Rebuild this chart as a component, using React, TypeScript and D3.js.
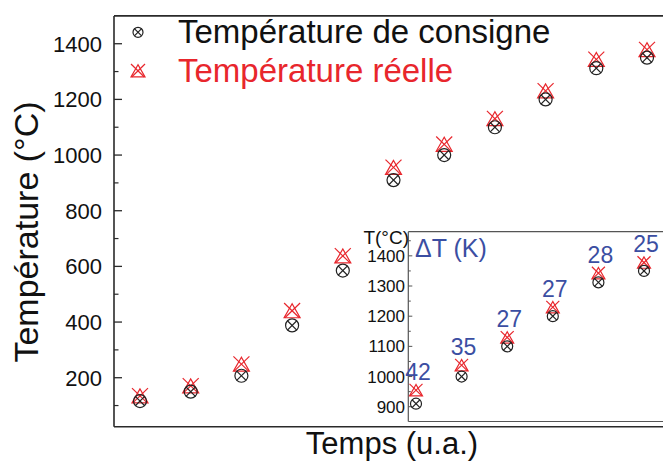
import React from "react";
import * as d3 from "d3";

const steps = [1, 2, 3, 4, 5, 6, 7, 8, 9, 10, 11];
const consigne = [116, 150, 207, 388, 585, 910, 1000, 1100, 1200, 1312, 1350];
const reelle = [131, 167, 245, 437, 634, 952, 1035, 1127, 1227, 1340, 1375];
const insetConsigne = [910, 1000, 1100, 1200, 1312, 1350];
const insetReelle = [952, 1035, 1127, 1227, 1340, 1375];
const deltaT = [42, 35, 27, 27, 28, 25];
const mainTicks = [200, 400, 600, 800, 1000, 1200, 1400];
const mainMinor = [100, 300, 500, 700, 900, 1100, 1300];
const insetTicks = [900, 1000, 1100, 1200, 1300, 1400];
const insetMinor = [950, 1050, 1150, 1250, 1350, 1450];

const FONT = "'Liberation Sans', Arial, Helvetica, sans-serif";
const RED = "#e8262c";
const BLUE = "#3b4ea2";
const W = 663;
const H = 461;

function Circ({ x, y, r }: { x: number; y: number; r: number }) {
  const k = r * 0.72;
  return (
    <g stroke="#222" strokeWidth={1.2} fill="none">
      <circle cx={x} cy={y} r={r} />
      <line x1={x - k} y1={y - k} x2={x + k} y2={y + k} />
      <line x1={x + k} y1={y - k} x2={x - k} y2={y + k} />
    </g>
  );
}

function Tri({ x, y, s }: { x: number; y: number; s: number }) {
  const pts = [
    [x, y - s],
    [x - s, y + s * 0.75],
    [x + s, y + s * 0.75],
  ];
  return (
    <g stroke={RED} strokeWidth={1.2} fill="none">
      <polygon points={pts.map((p) => p.join(",")).join(" ")} />
      <line x1={x - s} y1={y - s * 1.1} x2={x + s * 0.9} y2={y + s * 0.75} />
      <line x1={x + s} y1={y - s * 1.1} x2={x - s * 0.9} y2={y + s * 0.75} />
    </g>
  );
}

export default function App() {
  const x = d3.scaleLinear().domain([1, 11]).range([140, 647]);
  const y = d3.scaleLinear().domain([24, 1500]).range([426.7, 15.9]);
  const xi = d3.scaleLinear().domain([0, 5]).range([416, 644]);
  const yi = d3.scaleLinear().domain([851, 1480]).range([421.5, 231.7]);

  const left = 114;
  const top = y(1500);
  const bottom = y(24);
  const iLeft = 408.3;
  const iTop = yi(1480);
  const iBottom = yi(851);

  return (
    <svg
      width={W}
      height={H}
      style={{ position: "absolute", left: 0, top: 0, background: "#fff" }}
      fontFamily={FONT}
    >
      <rect x={0} y={0} width={W} height={H} fill="#fff" />
      {/* main frame */}
      <g stroke="#2a2a2a" strokeWidth={1.6} fill="none">
        <line x1={left} y1={top} x2={W} y2={top} />
        <line x1={left} y1={top} x2={left} y2={bottom} />
        <line x1={left} y1={bottom} x2={W} y2={bottom} />
      </g>
      {mainTicks.map((t) => (
        <g key={t}>
          <line x1={left} x2={left + 8} y1={y(t)} y2={y(t)} stroke="#2a2a2a" strokeWidth={1.3} />
          <text x={102} y={y(t)} dy="0.36em" textAnchor="end" fontSize={22} fill="#111">
            {t}
          </text>
        </g>
      ))}
      {mainMinor.map((t) => (
        <line key={t} x1={left} x2={left + 4.5} y1={y(t)} y2={y(t)} stroke="#2a2a2a" strokeWidth={1.2} />
      ))}
      <text
        transform={`translate(38,232) rotate(-90)`}
        textAnchor="middle"
        fontSize={34}
        fill="#111"
      >
        Température (°C)
      </text>
      <text x={392} y={454.3} textAnchor="middle" fontSize={31} fill="#111">
        Temps (u.a.)
      </text>

      {/* main data */}
      {steps.map((s, i) => (
        <g key={s}>
          <Tri x={x(s)} y={y(reelle[i])} s={8} />
          <Circ x={x(s)} y={y(consigne[i])} r={6.5} />
        </g>
      ))}

      {/* legend */}
      <Circ x={138} y={32.3} r={5} />
      <text x={178} y={42.7} fontSize={33} fill="#111">
        Température de consigne
      </text>
      <Tri x={138} y={71.7} s={7} />
      <text x={178} y={82} fontSize={33} fill={RED}>
        Température réelle
      </text>

      {/* inset */}
      <rect x={iLeft} y={iTop} width={W - iLeft + 5} height={iBottom - iTop} fill="#fff" />
      <g stroke="#555" strokeWidth={1.2} fill="none">
        <line x1={iLeft} y1={iTop} x2={W} y2={iTop} />
        <line x1={iLeft} y1={iTop} x2={iLeft} y2={iBottom} />
        <line x1={iLeft} y1={iBottom} x2={W} y2={iBottom} />
      </g>
      {insetTicks.map((t) => (
        <g key={t}>
          <line x1={iLeft} x2={iLeft + 4} y1={yi(t)} y2={yi(t)} stroke="#555" strokeWidth={1} />
          <text x={405} y={yi(t)} dy="0.36em" textAnchor="end" fontSize={17} fill="#111">
            {t}
          </text>
        </g>
      ))}
      {insetMinor.map((t) => (
        <line key={t} x1={iLeft} x2={iLeft + 2.5} y1={yi(t)} y2={yi(t)} stroke="#555" strokeWidth={1} />
      ))}
      <text x={409} y={244} textAnchor="end" fontSize={19} fill="#111">
        T(°C)
      </text>
      <text x={415} y={257} fontSize={25} fill={BLUE}>
        ΔT (K)
      </text>
      {insetConsigne.map((v, i) => (
        <g key={i}>
          <Tri x={xi(i)} y={yi(insetReelle[i])} s={6.5} />
          <Circ x={xi(i)} y={yi(v)} r={5.5} />
          <text
            x={xi(i) + 2}
            y={yi(insetReelle[i]) - 11}
            textAnchor="middle"
            fontSize={23}
            fill={BLUE}
          >
            {deltaT[i]}
          </text>
        </g>
      ))}
    </svg>
  );
}
